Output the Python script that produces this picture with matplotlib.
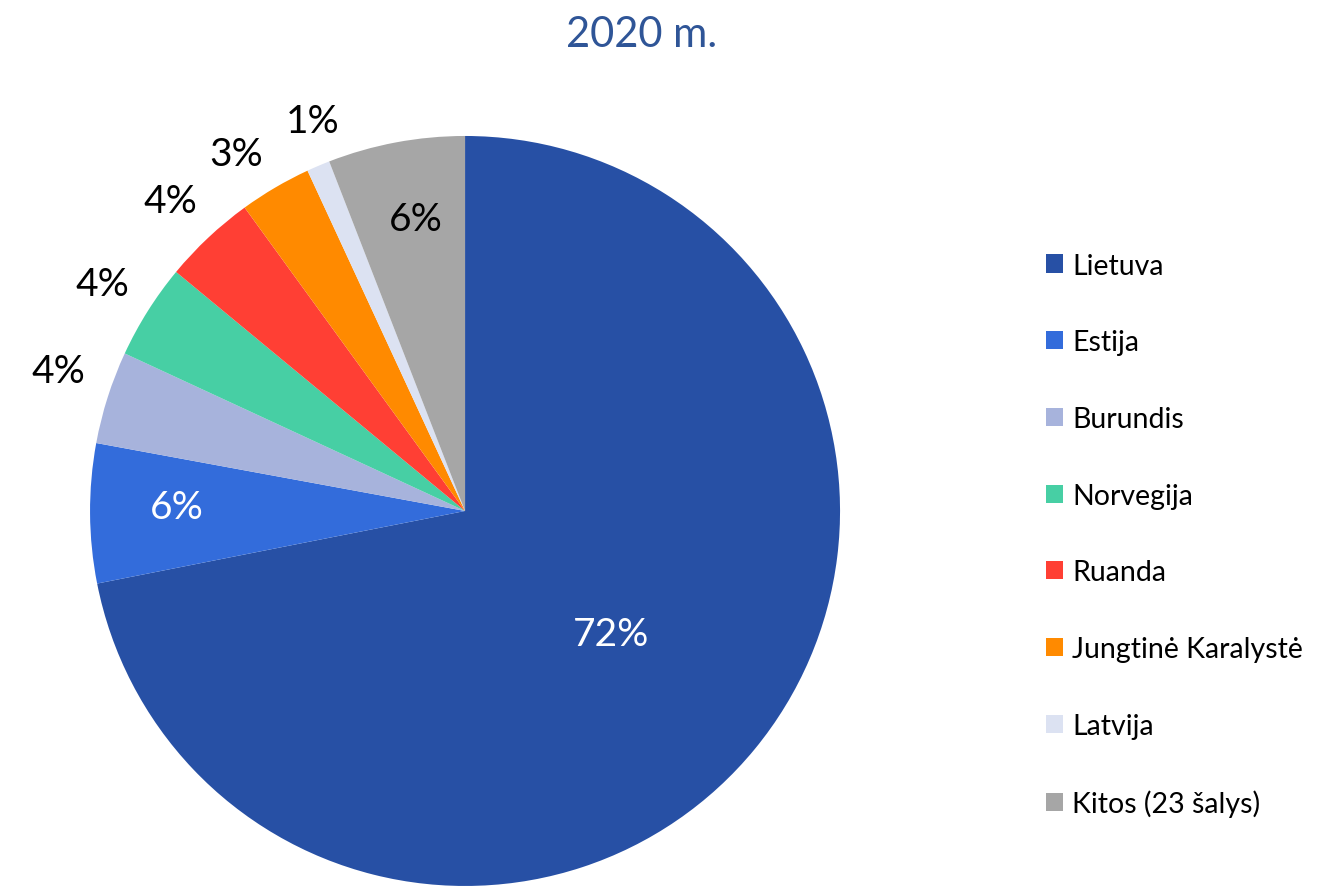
import matplotlib

matplotlib.use("Agg")
import matplotlib.pyplot as plt
from matplotlib.patches import Patch
import numpy as np

plt.rcParams["font.family"] = ["Lato", "DejaVu Sans"]

# data
countries = [
    "Lietuva",
    "Estija",
    "Burundis",
    "Norvegija",
    "Ruanda",
    "Jungtinė Karalystė",
    "Latvija",
    "Kitos (23 šalys)",
]
shares = [71.9, 6.0, 4.0, 4.1, 4.0, 3.1, 1.0, 5.9]
colors = ["#2750A5", "#336CDB", "#A7B3DC", "#47CFA4", "#FF3F34", "#FF8A00", "#DCE2F2", "#A6A6A6"]
title = "2020 m."

# label placement per wedge: distance (fraction of radius), angle nudge (deg), colour
label_dist = [0.51, 0.77, 1.147, 1.141, 1.141, 1.131, 1.116, 0.79]
label_nudge = [-0.7, -1.2, -1.3, 0.2, 0.4, 2.3, -1.7, -1.1]
label_color = ["white", "white", "black", "black", "black", "black", "black", "black"]

fig = plt.figure(figsize=(13.4, 8.87), dpi=100)
ax = fig.add_axes([0.0672, 0.0, 0.5597, 0.8456])

wedges, texts, autotexts = ax.pie(
    shares,
    colors=colors,
    startangle=90,
    counterclock=False,
    autopct="%.0f%%",
    radius=1.0,
    textprops={"fontsize": 28},
)

for w, t, d, n, c in zip(wedges, autotexts, label_dist, label_nudge, label_color):
    ang = np.deg2rad((w.theta1 + w.theta2) / 2 + n)
    t.set_position((d * np.cos(ang), d * np.sin(ang)))
    t.set_color(c)
    t.set_ha("center")
    t.set_va("center")

ax.set_xlim(-1, 1)
ax.set_ylim(-1, 1)
ax.set_aspect("equal")
ax.axis("off")

fig.text(0.479, 0.96, title, ha="center", va="center", fontsize=30, color="#2F5597")

handles = [Patch(facecolor=c, edgecolor="none") for c in colors]
fig.legend(
    handles,
    countries,
    loc="center left",
    bbox_to_anchor=(0.7615, 0.396),
    frameon=False,
    fontsize=20.5,
    handlelength=0.6,
    handleheight=0.6,
    handletextpad=0.32,
    labelspacing=1.78,
)

fig.savefig("out.png", dpi=100)
